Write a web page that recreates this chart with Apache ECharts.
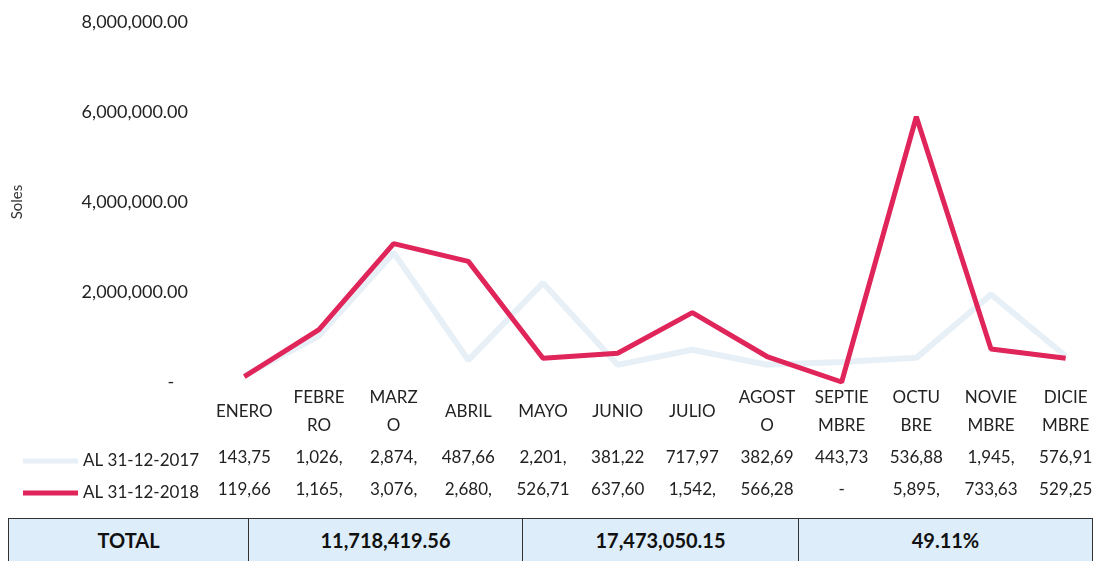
<!DOCTYPE html>
<html>
<head>
<meta charset="utf-8">
<script src="https://cdn.jsdelivr.net/npm/echarts@6/dist/echarts.min.js"></script>
<style>
    body { margin: 0; background: #fff; }
    #line-chart { width: 1103px; height: 561px; }
    #total-table {
        position: absolute; left: 8px; top: 518px; width: 1080px; height: 46px;
        border-collapse: collapse; background: #ddeefa; table-layout: fixed;
        font-family: Lato, 'Open Sans', sans-serif; font-weight: bold; font-size: 20px; color: #111;
    }
    #total-table td { border: 1.5px solid #333; text-align: center; padding: 0 0 2px 0; }
</style>
</head>
<body>
<div id="line-chart"></div>
<table id="total-table"><tr id="total-row"></tr></table>
<script>
const months = ['ENERO', 'FEBRE\nRO', 'MARZ\nO', 'ABRIL', 'MAYO', 'JUNIO', 'JULIO', 'AGOST\nO', 'SEPTIE\nMBRE', 'OCTU\nBRE', 'NOVIE\nMBRE', 'DICIE\nMBRE'];
const seriesNames = ['AL 31-12-2017', 'AL 31-12-2018'];
const values2017 = [143750, 1026400, 2874300, 487660, 2201300, 381220, 717970, 382690, 443730, 536880, 1945200, 576910];
const values2018 = [119660, 1165300, 3076400, 2680500, 526710, 637600, 1542400, 566280, 0, 5895300, 733630, 529250];
const totalLabels = ['TOTAL', '11,718,419.56', '17,473,050.15', '49.11%'];
const totalWidths = [239, 273, 275, 293];

const FONT = 'Lato, "Open Sans", sans-serif';
const colors = ['#e8f0f7', '#e0255b'];

// excel cuts the cell text, so keep the first 6 chars
const cellText = (v) => {
    if (v === 0) return '-';
    return v.toLocaleString('en-US').slice(0, 6);
}

const valueAxis = (values, offset) => ({
    type: 'category',
    data: months,
    position: 'bottom',
    offset: offset,
    axisLine: {show: false},
    axisTick: {show: false},
    axisLabel: {
        margin: 4,
        fontFamily: FONT,
        fontSize: 17,
        color: '#222',
        lineHeight: 28,
        formatter: function (value, index) {
            return cellText(values[index]);
        }
    }
});

const renderLine = () => {
    const lineChart = echarts.init(document.querySelector('#line-chart'));
    lineChart.setOption({
        animation: false,
        grid: {
            left: 207,
            right: 0,
            top: 22,
            bottom: 179
        },
        legend: {
            orient: 'vertical',
            left: 18,
            top: 446,
            itemGap: 12,
            itemWidth: 55,
            itemHeight: 5,
            icon: 'rect',
            textStyle: {
                fontFamily: FONT,
                fontSize: 17,
                color: '#222',
                lineHeight: 20
            },
            data: seriesNames
        },
        xAxis: [
            {
                type: 'category',
                data: months,
                axisLine: {show: false},
                axisTick: {show: false},
                axisLabel: {
                    margin: 30,
                    verticalAlign: 'middle',
                    fontFamily: FONT,
                    fontSize: 17,
                    color: '#222',
                    lineHeight: 28,
                    interval: 0
                }
            },
            valueAxis(values2017, 58),
            valueAxis(values2018, 90)
        ],
        yAxis: {
            type: 'value',
            min: 0,
            max: 8000000,
            interval: 2000000,
            name: 'Soles',
            nameLocation: 'middle',
            nameGap: 182,
            nameTextStyle: {
                fontFamily: FONT,
                fontSize: 15,
                color: '#333'
            },
            splitLine: {show: false},
            axisLine: {show: false},
            axisTick: {show: false},
            axisLabel: {
                margin: 19,
                fontFamily: FONT,
                fontSize: 18,
                color: '#222',
                formatter: function (value) {
                    if (value === 0) return '-   ';
                    return value.toLocaleString('en-US', {minimumFractionDigits: 2});
                }
            }
        },
        series: [
            {
                name: seriesNames[0],
                type: 'line',
                data: values2017,
                symbol: 'none',
                color: colors[0],
                lineStyle: {width: 6, color: colors[0]}
            },
            {
                name: seriesNames[1],
                type: 'line',
                data: values2018,
                symbol: 'none',
                color: colors[1],
                lineStyle: {width: 5, color: colors[1]}
            }
        ]
    });
}

const renderTotals = () => {
    const row = document.querySelector('#total-row');
    totalLabels.forEach((label, i) => {
        const td = document.createElement('td');
        td.style.width = totalWidths[i] + 'px';
        td.textContent = label;
        row.appendChild(td);
    });
}

renderLine();
renderTotals();
</script>
</body>
</html>
